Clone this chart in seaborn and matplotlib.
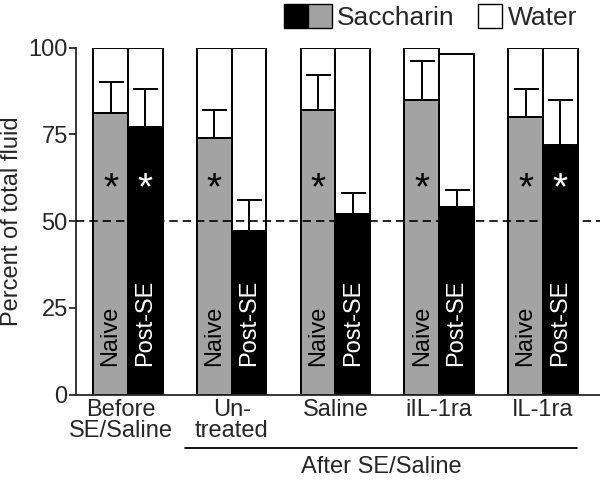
import matplotlib
matplotlib.use("Agg")
import matplotlib.pyplot as plt
from matplotlib.patches import Patch
from matplotlib.legend_handler import HandlerTuple
from matplotlib.transforms import ScaledTranslation
import pandas as pd
import seaborn as sns

# values (percent of total fluid)
groups = ["Before\nSE/Saline", "Un-\ntreated", "Saline", "iIL-1ra", "IL-1ra"]
conditions = ["Naive", "Post-SE"]
naive_sacch = [81, 74, 82, 85, 80]
naive_err = [9, 8, 10, 11, 8]
post_sacch = [77, 47, 52, 54, 72]
post_err = [11, 9, 6, 5, 13]
naive_total = [100, 100, 100, 100, 100]
post_total = [100, 100, 100, 98, 100]
naive_star = [True, True, True, True, True]
post_star = [True, False, False, False, True]

df = pd.DataFrame({
    "group": groups * 2,
    "cond": ["Naive"] * 5 + ["Post-SE"] * 5,
    "saccharin": naive_sacch + post_sacch,
    "total": naive_total + post_total,
})

sns.set_style("ticks")
plt.rcParams["font.family"] = ["Liberation Sans", "DejaVu Sans"]
FS = 17

fig = plt.figure(figsize=(6, 4.8), dpi=100)
ax = fig.add_axes([0.1267, 0.178, 0.8733, 0.723])

# water on top (white), then saccharin
sns.barplot(data=df, x="group", y="total", hue="cond", hue_order=conditions,
            palette={"Naive": "white", "Post-SE": "white"}, saturation=1,
            width=0.67, gap=0, edgecolor="black", linewidth=1.4,
            errorbar=None, legend=False, ax=ax)
sns.barplot(data=df, x="group", y="saccharin", hue="cond", hue_order=conditions,
            palette={"Naive": "#a3a3a3", "Post-SE": "black"}, saturation=1,
            width=0.67, gap=0, edgecolor="black", linewidth=1.4,
            errorbar=None, legend=False, ax=ax)

cont_naive, cont_post = ax.containers[-2], ax.containers[-1]
for cont, vals, errs, stars, txt_col, lab in [
        (cont_naive, naive_sacch, naive_err, naive_star, "black", "Naive"),
        (cont_post, post_sacch, post_err, post_star, "white", "Post-SE")]:
    xs = [p.get_x() + p.get_width() / 2 for p in cont.patches]
    ax.errorbar(xs, vals, yerr=[[0] * len(errs), errs], fmt="none",
                ecolor="black", elinewidth=1.4, capsize=9, capthick=1.4, zorder=5)
    for x, s in zip(xs, stars):
        ax.text(x, 8.3, lab, rotation=90, ha="center", va="bottom",
                color=txt_col, fontsize=FS, zorder=6)
        if s:
            ax.text(x, 59.2, "*", ha="center", va="center", color=txt_col,
                    fontsize=28, zorder=6)

ax.axhline(50, color="black", lw=1.2, ls=(0, (5, 3)), zorder=4)

ax.set_ylim(0, 100)
ax.set_xlim(-0.5, 4.55)
ax.set_yticks([0, 25, 50, 75, 100])
ax.set_xlabel("")
ax.set_ylabel("Percent of total fluid", fontsize=FS, labelpad=4)
ax.tick_params(axis="y", labelsize=FS, length=5, width=1.3, pad=1)
ax.tick_params(axis="x", labelsize=FS, length=0, pad=3)
for lbl in ax.get_xticklabels():
    lbl.set_linespacing(0.95)
first = ax.get_xticklabels()[0]
first.set_transform(first.get_transform() + ScaledTranslation(-7 / 100, 0, fig.dpi_scale_trans))
sns.despine(ax=ax, right=True, top=True)
for sp in ["left", "bottom"]:
    ax.spines[sp].set_linewidth(1.3)

# bracket for the treated groups
ax.plot([0.55, 4.33], [-15.3, -15.3], color="black", lw=1.3,
        transform=ax.transData, clip_on=False)
ax.text(2.44, -20.8, "After SE/Saline", ha="center", va="center",
        fontsize=FS, clip_on=False)

# legend: black+gray box for saccharin, single white box for water
blank = Patch(facecolor="none", edgecolor="none")
handles = [(Patch(facecolor="black", edgecolor="black"),
            Patch(facecolor="#a3a3a3", edgecolor="black")),
           (blank, Patch(facecolor="white", edgecolor="black"))]
fig.legend(handles=handles, labels=["Saccharin", "Water"],
           handler_map={tuple: HandlerTuple(ndivide=None, pad=0)},
           loc="upper right", bbox_to_anchor=(0.968, 1.0), ncol=2,
           frameon=False, fontsize=19, handlelength=1.8, handleheight=1.0,
           handletextpad=0.2, columnspacing=0.0, borderaxespad=0, borderpad=0.15)

fig.savefig("out.png", dpi=100)
